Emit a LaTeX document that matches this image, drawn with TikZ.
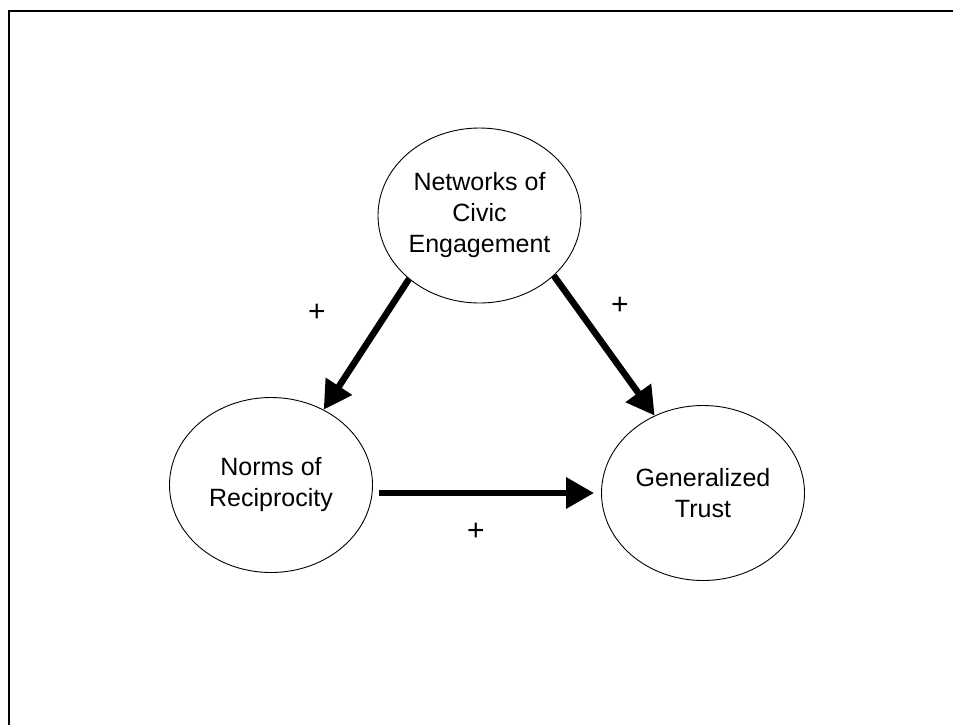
\documentclass[tikz,border=0pt]{standalone}
\usepackage{fontspec}
\setmainfont{Liberation Sans}
\usetikzlibrary{shapes.geometric,arrows.meta}

\tikzset{
  concept/.style={draw=black, line width=0.9pt, ellipse, minimum width=203pt,
    minimum height=175pt, inner sep=0pt, align=center,
    font=\fontsize{25}{31}\selectfont},
  effect/.style={draw=black, line width=6.5pt,
    -{Triangle[width=30pt,length=28pt]}},
  sign/.style={font=\fontsize{30}{36}\selectfont, inner sep=0pt},
  frameline/.style={draw=black, line width=2.4pt}
}

\begin{document}
\begin{tikzpicture}[x=1pt,y=-1pt]
  \useasboundingbox (0,0) rectangle (953,724);

  % outer frame (left and top edges)
  \draw[frameline] (9,730) -- (9,11) -- (960,11);

  % concepts
  \node[concept] (net)   at (479.5,215.5) {Networks of\\Civic\\Engagement};
  \node[concept] (norms) at (271,485)     {Norms of\\Reciprocity};
  \node[concept] (trust) at (703,493)     {Generalized\\Trust};

  % causal links
  \draw[effect] (net.222) -- (norms.55);
  \draw[effect] (net.-39) -- (trust.122);
  \draw[effect] ([xshift=6pt,yshift=-8pt]norms.east) -- ([xshift=-7pt]trust.west);

  % signs of the links
  \node[sign] (p1) at (317,313) {+};
  \node[sign] (p2) at (620,306) {+};
  \node[sign] (p3) at (476,532) {+};
\end{tikzpicture}
\end{document}
